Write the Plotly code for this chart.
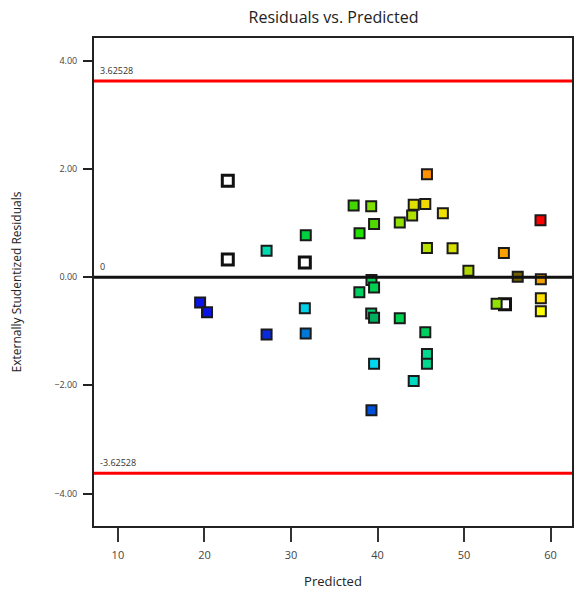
import plotly.graph_objects as go

# Predicted response vs. externally studentized residual, one entry per run
predicted = [19.5, 20.3, 27.18, 31.7, 39.3, 31.6, 39.6, 44.18, 27.18, 45.71,
             45.71, 45.52, 42.57, 39.27, 39.6, 37.9, 39.3, 39.6, 31.71, 37.92,
             37.24, 39.27, 39.6, 42.57, 44.0, 44.18, 45.52, 47.55, 45.71, 45.71,
             48.67, 50.5, 54.6, 56.2, 58.87, 58.83, 58.87, 58.87, 53.76]
residuals = [-0.47, -0.65, -1.06, -1.04, -2.46, -0.573, -1.60, -1.92, 0.486, -1.42,
             -1.60, -1.02, -0.76, -0.67, -0.75, -0.28, -0.055, -0.19, 0.776, 0.81,
             1.325, 1.31, 0.98, 1.01, 1.14, 1.34, 1.35, 1.18, 1.90, 0.54,
             0.536, 0.117, 0.444, 0.006, -0.04, 1.05, -0.39, -0.63, -0.49]
point_colors = ["#0a14e6", "#0a14e6", "#0a2ae0", "#0078d8", "#0050d8", "#00d0e8", "#00d8f0",
                "#00d8c0", "#00d8b0", "#00d890", "#00d890", "#00d060", "#00d050", "#00d070",
                "#00b060", "#00d060", "#00d050", "#00d050", "#00d040", "#20e000", "#40d800",
                "#80e000", "#50d800", "#90e000", "#b0e000", "#e0e000", "#f0d800", "#f0e000",
                "#ff9000", "#b8e000", "#d8e000", "#b0d800", "#f8a000", "#706000", "#f0a000",
                "#ff0000", "#ffe000", "#ffff00", "#90e000"]

# Runs drawn as open squares
open_predicted = [22.7, 22.7, 31.6, 54.73]
open_residuals = [1.78, 0.327, 0.27, -0.50]

limit = 3.62528
x_ticks = [10, 20, 30, 40, 50, 60]
y_ticks = [-4, -2, 0, 2, 4]

fig = go.Figure()
fig.add_trace(go.Scatter(
    x=open_predicted, y=open_residuals, mode="markers",
    marker=dict(symbol="square", size=11, color="white",
                line=dict(color="#111111", width=3)),
    hoverinfo="x+y", showlegend=False))
fig.add_trace(go.Scatter(
    x=predicted, y=residuals, mode="markers",
    marker=dict(symbol="square", size=10, color=point_colors,
                line=dict(color="#1a1a1a", width=2)),
    hoverinfo="x+y", showlegend=False))

# Control limits and zero line
for yv, col, w in [(limit, "#ff0000", 3), (-limit, "#ff0000", 3), (0, "#111111", 3)]:
    fig.add_shape(type="line", xref="paper", yref="y", x0=0, x1=1, y0=yv, y1=yv,
                  line=dict(color=col, width=w), layer="above")

label_font = dict(family="Open Sans, Noto Sans, sans-serif", size=9, color="#333333")
for yv, txt in [(limit, "3.62528"), (-limit, "-3.62528"), (0, "0")]:
    fig.add_annotation(xref="paper", yref="y", x=0.008, y=yv, text=txt,
                       showarrow=False, xanchor="left", yanchor="bottom",
                       yshift=2, font=label_font)

fig.update_layout(
    width=575, height=594,
    margin=dict(l=94, r=1, t=38, b=68),
    paper_bgcolor="white", plot_bgcolor="white",
    font=dict(family="Open Sans, Noto Sans, sans-serif", color="#222222"),
    title=dict(text="Residuals vs. Predicted", x=0.58, xanchor="center",
               y=0.97, yanchor="middle",
               font=dict(size=16, color="#222222")),
    xaxis=dict(range=[7.24, 62.47], tickvals=x_ticks,
               ticks="outside", ticklen=14, tickwidth=2, tickcolor="#333333",
               ticklabelstandoff=4,
               showline=True, linewidth=2, linecolor="#222222", mirror=True,
               showgrid=False, zeroline=False,
               tickfont=dict(size=11, color="#444444"),
               title=dict(text="Predicted", font=dict(size=13, color="#222222"),
                          standoff=16)),
    yaxis=dict(range=[-4.60, 4.42], tickvals=y_ticks, tickformat=".2f",
               ticks="outside", ticklen=9, tickwidth=2, tickcolor="#222222",
               ticklabelstandoff=4,
               showline=True, linewidth=2, linecolor="#222222", mirror=True,
               showgrid=False, zeroline=False,
               tickfont=dict(size=9, color="#444444"),
               title=dict(text="Externally Studentized Residuals",
                          font=dict(size=12, color="#222222"), standoff=30)),
)

fig.write_html("out.html")
